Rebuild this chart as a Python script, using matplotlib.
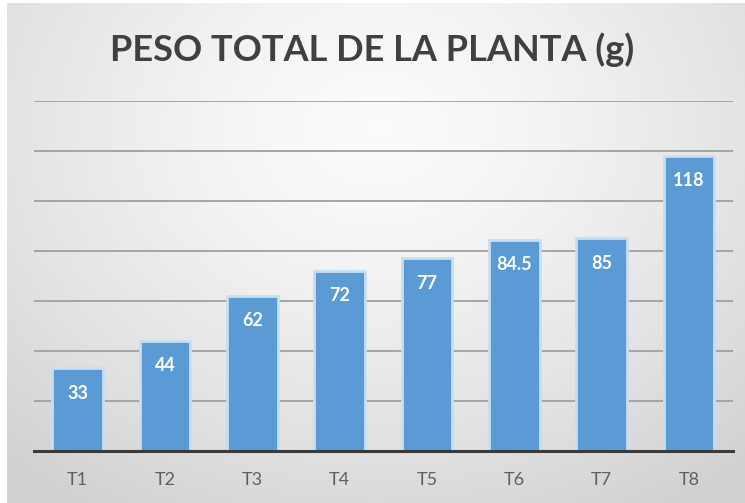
import numpy as np
import matplotlib
matplotlib.use("Agg")
import matplotlib.pyplot as plt

# Datos del grafico
tratamientos = ["T1", "T2", "T3", "T4", "T5", "T6", "T7", "T8"]
peso_total = [33, 44, 62, 72, 77, 84.5, 85, 118]
etiquetas = ["33", "44", "62", "72", "77", "84.5", "85", "118"]

plt.rcParams["font.family"] = ["Lato", "DejaVu Sans"]

fig = plt.figure(figsize=(7.45, 5.03), dpi=100)
fig.patch.set_facecolor("white")

# Fondo con degradado radial (blanco al centro, gris en los bordes)
bg = fig.add_axes([0.009, 0.0, 0.991, 0.994])
yy, xx = np.mgrid[0:1:300j, 0:1:400j]
r = np.sqrt(((xx - 0.5) / 0.75) ** 2 + ((yy - 0.25) / 0.9) ** 2)
t = np.clip(r, 0, 1) ** 1.4
claro = np.array([0.985, 0.985, 0.985])
oscuro = np.array([0.82, 0.82, 0.82])
img = claro[None, None, :] * (1 - t[..., None]) + oscuro[None, None, :] * t[..., None]
bg.imshow(img, aspect="auto", extent=[0, 1, 0, 1], origin="upper")
bg.axis("off")

ax = fig.add_axes([0.0455, 0.1034, 0.938, 0.696])
ax.set_facecolor("none")

x = np.arange(len(tratamientos))
barras = ax.bar(x, peso_total, width=0.58, color="#5b9bd5",
                edgecolor="#c9def2", linewidth=2.0, zorder=3)

# Etiquetas de valor dentro de cada barra
for xi, v, txt in zip(x, peso_total, etiquetas):
    ax.text(xi, v - 10, txt, ha="center", va="center", color="white",
            fontsize=13, fontweight="bold", zorder=4)

ax.set_xlim(-0.5, len(tratamientos) - 0.5)
ax.set_ylim(0, 140)
ax.set_yticks(np.arange(20, 141, 20))
ax.yaxis.grid(True, color="#a0a0a0", linewidth=1.3, zorder=0)
ax.set_axisbelow(True)
ax.tick_params(axis="y", left=False, labelleft=False)
ax.set_xticks(x)
ax.set_xticklabels(tratamientos, fontsize=13, color="#606060")
ax.tick_params(axis="x", length=0, pad=15)

for s in ["top", "right", "left"]:
    ax.spines[s].set_visible(False)
ax.spines["bottom"].set_color("#3a3a3a")
ax.spines["bottom"].set_linewidth(2.2)
ax.spines["bottom"].set_zorder(5)

fig.text(0.5, 0.902, "PESO TOTAL DE LA PLANTA (g)", ha="center", va="center",
         fontsize=26, fontweight="bold", color="#404040")

fig.savefig("out.png", dpi=100)
